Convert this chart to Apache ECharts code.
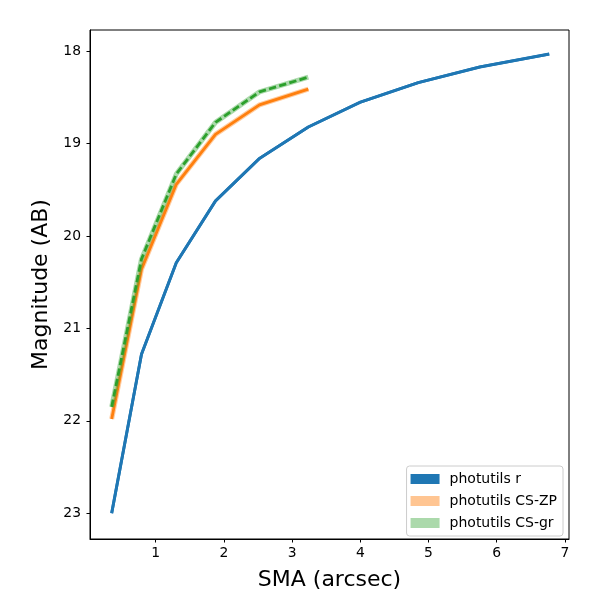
<!DOCTYPE html>
<html>
<head>
<meta charset="utf-8">
<script src="https://cdn.jsdelivr.net/npm/echarts@6/dist/echarts.min.js"></script>
<style>
  html, body { margin: 0; padding: 0; background: #fff; }
  #chart { width: 600px; height: 600px; }
</style>
</head>
<body>
<div id="chart"></div>
<script>
// SMA (arcsec) radii
var smaR = [0.355, 0.792, 1.302, 1.877, 2.522, 3.238, 4.003, 4.850, 5.755, 6.770];
var smaCS = [0.355, 0.792, 1.302, 1.877, 2.522, 3.238];

// magnitudes (AB)
var magR = [23.00, 21.28, 20.29, 19.62, 19.16, 18.82, 18.55, 18.34, 18.17, 18.03];
var magZP = [21.98, 20.36, 19.44, 18.90, 18.58, 18.41];
var magGR = [21.85, 20.25, 19.33, 18.77, 18.44, 18.28];

var xTicks = [1, 2, 3, 4, 5, 6, 7];
var yTicks = [18, 19, 20, 21, 22, 23];

var names = ['photutils r', 'photutils CS-ZP', 'photutils CS-gr'];

function pairs(xs, ys) {
  return xs.map(function (x, i) { return [x, ys[i]]; });
}

var font = 'DejaVu Sans';

var chart = echarts.init(document.getElementById('chart'), null, { renderer: 'canvas' });

// band = wide translucent line under the main curve
function band(name, xs, ys, color, w) {
  return {
    name: name + ' band',
    type: 'line',
    data: pairs(xs, ys),
    symbol: 'none',
    silent: true,
    animation: false,
    lineStyle: { color: color, width: w }
  };
}

var option = {
  animation: false,
  grid: {
    left: 90, right: 31, top: 30, bottom: 61,
    show: true, borderColor: '#000', borderWidth: 1,
    containLabel: false
  },
  legend: {
    orient: 'vertical',
    right: 37,
    top: 466,
    icon: 'rect',
    itemWidth: 29,
    itemHeight: 10,
    itemGap: 6,
    padding: [5, 6, 5, 4],
    backgroundColor: 'rgba(255,255,255,0.8)',
    borderColor: '#cccccc',
    borderWidth: 1,
    borderRadius: 3,
    textStyle: { fontFamily: font, fontSize: 14, color: '#000', lineHeight: 16, padding: [0, 0, 0, 5] },
    data: [
      { name: names[0], itemStyle: { color: '#1f77b4', opacity: 1 }, lineStyle: { opacity: 0 } },
      { name: names[1], itemStyle: { color: 'rgba(255,127,14,0.45)', opacity: 1 }, lineStyle: { opacity: 0 } },
      { name: names[2], itemStyle: { color: 'rgba(44,160,44,0.4)', opacity: 1 }, lineStyle: { opacity: 0 } }
    ]
  },
  xAxis: {
    type: 'value',
    min: 0.037,
    max: 7.06,
    name: 'SMA (arcsec)',
    nameLocation: 'middle',
    nameGap: 30,
    nameTextStyle: { fontFamily: font, fontSize: 22, color: '#000' },
    axisLine: { show: true, onZero: false, lineStyle: { color: '#000', width: 1 } },
    axisTick: { show: true, length: 3.5, customValues: xTicks, lineStyle: { color: '#000' } },
    axisLabel: { customValues: xTicks, margin: 7, fontFamily: font, fontSize: 13.9, color: '#000' },
    splitLine: { show: false }
  },
  yAxis: {
    type: 'value',
    inverse: true,
    min: 17.77,
    max: 23.28,
    name: 'Magnitude (AB)',
    nameLocation: 'middle',
    nameGap: 34,
    nameTextStyle: { fontFamily: font, fontSize: 22, color: '#000' },
    axisLine: { show: true, onZero: false, lineStyle: { color: '#000', width: 1 } },
    axisTick: { show: true, length: 3.5, customValues: yTicks, lineStyle: { color: '#000' } },
    axisLabel: { customValues: yTicks, margin: 9, fontFamily: font, fontSize: 13.9, color: '#000' },
    splitLine: { show: false }
  },
  series: [
    band(names[0], smaR, magR, '#1f77b4', 3),
    {
      name: names[0],
      type: 'line',
      data: pairs(smaR, magR),
      symbol: 'none',
      lineStyle: { color: '#1f77b4', width: 2.8 },
      itemStyle: { color: '#1f77b4' }
    },
    band(names[1], smaCS, magZP, 'rgba(255,127,14,0.4)', 5),
    {
      name: names[1],
      type: 'line',
      data: pairs(smaCS, magZP),
      symbol: 'none',
      lineStyle: { color: '#ff7f0e', width: 2.8 },
      itemStyle: { color: '#ff7f0e' }
    },
    band(names[2], smaCS, magGR, 'rgba(44,160,44,0.4)', 5),
    {
      name: names[2],
      type: 'line',
      data: pairs(smaCS, magGR),
      symbol: 'none',
      lineStyle: { color: '#2ca02c', width: 2.8, type: [7.4, 3.2] },
      itemStyle: { color: '#2ca02c' }
    }
  ]
};

chart.setOption(option);
</script>
</body>
</html>
